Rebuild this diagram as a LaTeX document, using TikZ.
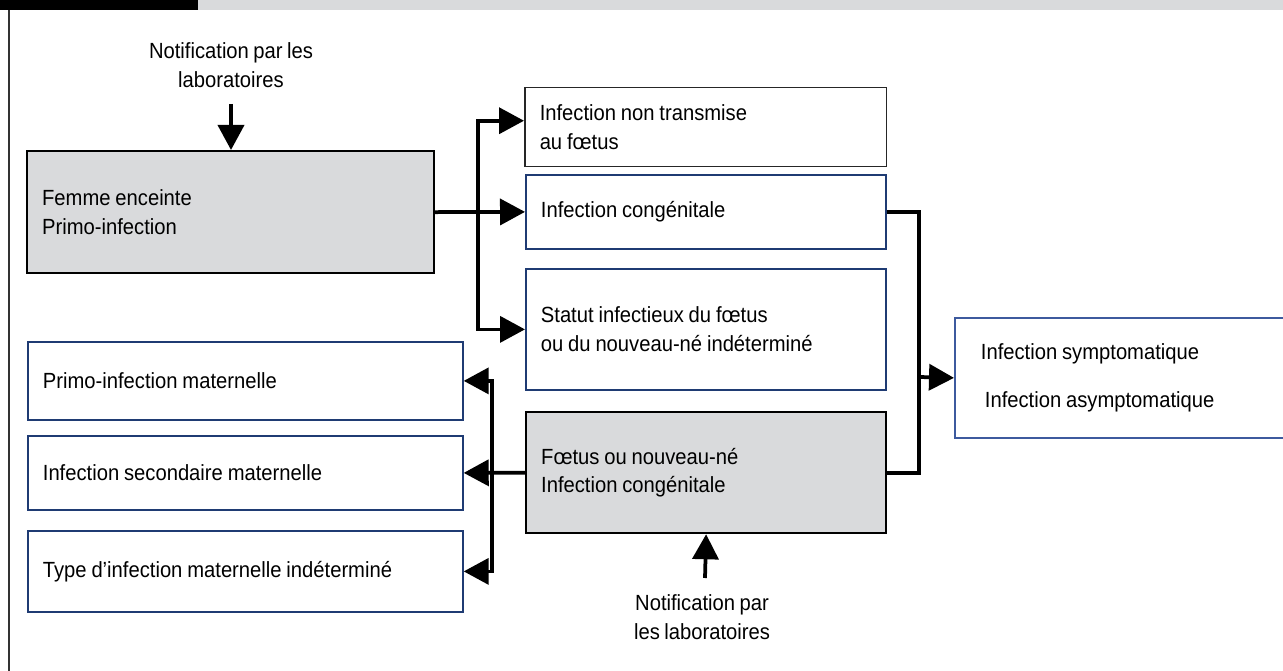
\documentclass[tikz,border=0pt]{standalone}
\usepackage{fontspec}
\setmainfont{Liberation Sans}[FakeStretch=0.92, WordSpace=0.8]
\usepackage{xcolor}
\usetikzlibrary{arrows.meta}
\definecolor{boxgrey}{HTML}{D9DADC}
\definecolor{navy}{HTML}{1F3B73}
\definecolor{midblue}{HTML}{3D5A9E}
\newcommand{\boxfont}{\fontsize{12.5}{16.3}\selectfont}

\begin{document}
\begin{tikzpicture}[x=0.02cm, y=-0.02cm]
    \useasboundingbox (0,0) rectangle (1283,671);

    % header bar and left rule
    \fill[black]   (0,0)   rectangle (198,10);
    \fill[boxgrey] (198,0) rectangle (1283,10);
    \draw[line width=0.04cm, black!80] (9,10) -- (9,671);

    \tikzset{
        box/.style={rectangle, anchor=north west, align=left, inner xsep=0.3cm, inner ysep=0pt, font=\boxfont,
            execute at begin node={\spaceskip=0.22em\xspaceskip=0.22em}},
        greybox/.style={box, draw=black, fill=boxgrey, line width=0.046cm},
        bluebox/.style={box, draw=navy, line width=0.036cm},
        arr/.style={-{Triangle[length=0.5cm, width=0.52cm]}, line width=0.075cm},
        conn/.style={line width=0.075cm}
    }

    \node[greybox, text width=7.54cm, minimum height=2.44cm] (femme) at (26,150) {Femme enceinte\\Primo-infection};

    \node[box, draw=black!85, line width=0.03cm, text width=6.64cm, minimum height=1.58cm] (nontrans) at (524,87) {Infection non transmise\\au fœtus};
    \node[bluebox, text width=6.6cm, minimum height=1.48cm] (conge)  at (525,174) {Infection congénitale};
    \node[bluebox, text width=6.6cm, minimum height=2.42cm] (statut) at (525,268) {Statut infectieux du fœtus\\ou du nouveau-né indéterminé};
    \node[greybox, text width=6.6cm, minimum height=2.42cm] (foetus) at (525,411) {Fœtus ou nouveau-né\\Infection congénitale};

    \node[bluebox, text width=8.1cm, minimum height=1.56cm] (primomat) at (27,341) {Primo-infection maternelle};
    \node[bluebox, text width=8.1cm, minimum height=1.48cm] (secmat)   at (27,435) {Infection secondaire maternelle};
    \node[bluebox, text width=8.1cm, minimum height=1.62cm] (typemat)  at (27,530) {Type d’infection maternelle indéterminé};

    \node[box, draw=midblue, line width=0.036cm, inner xsep=0.52cm, text width=6cm, minimum height=2.4cm] (sympt) at (954,317) {Infection symptomatique\\[10.9pt]\hspace{0.08cm}Infection asymptomatique};

    \node[align=center, font=\boxfont] (notiftop) at (231,65)  {Notification par les\\laboratoires};
    \node[align=center, font=\boxfont] (notifbot) at (702,617) {Notification par\\les laboratoires};

    \coordinate (topin)  at (231,104);
    \coordinate (botin)  at (705,578);
    \coordinate (split)  at (478,211);
    \coordinate (merge)  at (919,377);
    \coordinate (fork)   at (492,472);

    \draw[arr] (topin) -- (topin |- femme.north);
    \draw[arr] (botin) -- (foetus.south);

    \draw[arr] (femme.east) -- (conge.west);
    \draw[arr] (split) |- ([yshift=0.13cm]nontrans.west);
    \draw[arr] (split) |- (statut.west);

    \draw[conn] (conge.east) -| (merge) |- (foetus.east);
    \draw[arr] (merge) -- (sympt.west);

    \draw[arr] (foetus.west) -- (secmat.east);
    \draw[arr] (fork) |- (primomat.east);
    \draw[arr] (fork) |- (typemat.east);
\end{tikzpicture}
\end{document}
